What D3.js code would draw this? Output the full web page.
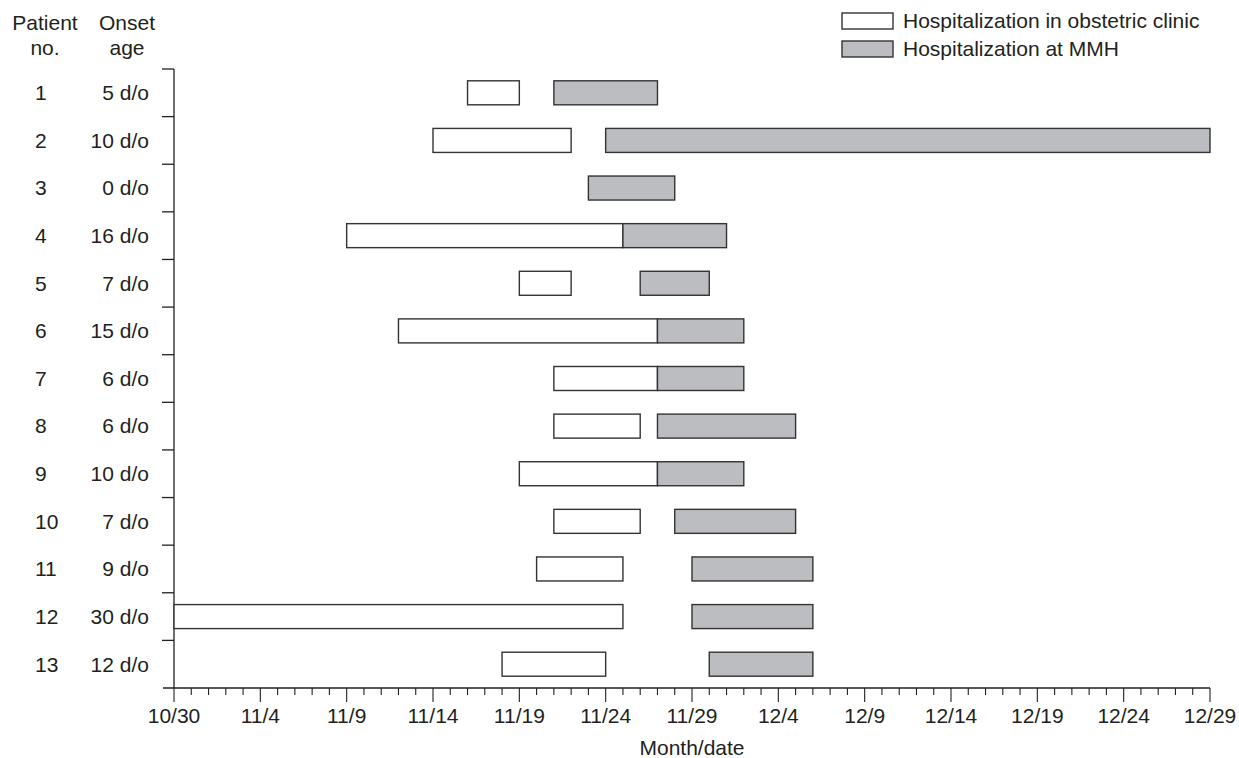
<!DOCTYPE html>
<html>
<head>
<meta charset="utf-8">
<script src="https://cdn.jsdelivr.net/npm/d3@7"></script>
<style>
  body { margin: 0; background: #fff; }
  text { font-family: "Liberation Sans", Arial, sans-serif; fill: #231f20; }
</style>
</head>
<body>
<div id="chart"></div>
<script>
// patient rows
const patients = ["1","2","3","4","5","6","7","8","9","10","11","12","13"];
const onsetAges = ["5 d/o","10 d/o","0 d/o","16 d/o","7 d/o","15 d/o","6 d/o","6 d/o","10 d/o","7 d/o","9 d/o","30 d/o","12 d/o"];

// hospitalization in obstetric clinic [start, end] (null = none)
const obstetricStays = [
    ["11/16","11/19"], ["11/14","11/22"], null, ["11/9","11/25"],
    ["11/19","11/22"], ["11/12","11/27"], ["11/21","11/27"], ["11/21","11/26"],
    ["11/19","11/27"], ["11/21","11/26"], ["11/20","11/25"], ["10/30","11/25"],
    ["11/18","11/24"]
];
// hospitalization at MMH [start, end]
const mmhStays = [
    ["11/21","11/27"], ["11/24","12/29"], ["11/23","11/28"], ["11/25","12/1"],
    ["11/26","11/30"], ["11/27","12/2"], ["11/27","12/2"], ["11/27","12/5"],
    ["11/27","12/2"], ["11/28","12/5"], ["11/29","12/6"], ["11/29","12/6"],
    ["11/30","12/6"]
];

const tickLabels = ["10/30","11/4","11/9","11/14","11/19","11/24","11/29","12/4","12/9","12/14","12/19","12/24","12/29"];
const legendLabels = ["Hospitalization in obstetric clinic","Hospitalization at MMH"];
const fills = ["#ffffff","#bcbdc0"];

const year = 2015;
const parse = s => { const [m,d] = s.split("/").map(Number); return new Date(Date.UTC(year, m-1, d)); };

const W = 1239, H = 758;
const margin = {top: 69, right: 29, bottom: 70, left: 174};
const width = W - margin.left - margin.right;
const height = H - margin.top - margin.bottom;
const fs = 21;

const svg = d3.select("#chart").append("svg")
    .attr("width", W).attr("height", H);
const g = svg.append("g")
    .attr("transform", "translate(" + margin.left + "," + margin.top + ")");

const xScale = d3.scaleUtc()
    .domain([parse(tickLabels[0]), parse(tickLabels[tickLabels.length-1])])
    .range([0, width]);
const yScale = d3.scaleBand().domain(patients).range([0, height]);

// x axis: daily minor ticks, labelled major ticks every 5 days
const allDays = d3.utcDay.range(xScale.domain()[0], d3.utcDay.offset(xScale.domain()[1], 1));
const majorSet = new Set(tickLabels.map(s => +parse(s)));
const xAxisG = g.append("g").attr("transform", "translate(0," + height + ")");
xAxisG.append("line")
    .attr("x1", -11).attr("x2", width).attr("stroke", "#231f20").attr("stroke-width", 1.3);
xAxisG.selectAll(".tk").data(allDays).join("line")
    .attr("x1", d => xScale(d)).attr("x2", d => xScale(d))
    .attr("y1", 0).attr("y2", d => majorSet.has(+d) ? 14 : 7)
    .attr("stroke", "#231f20").attr("stroke-width", 1.1);
xAxisG.selectAll(".lbl").data(tickLabels).join("text")
    .attr("x", d => xScale(parse(d))).attr("y", 35)
    .attr("text-anchor", "middle").attr("font-size", fs)
    .text(d => d);
g.append("text")
    .attr("x", xScale(parse("11/29"))).attr("y", height + 67)
    .attr("text-anchor", "middle").attr("font-size", fs)
    .text("Month/date");

// y axis with row boundary ticks
g.append("line").attr("x1", 0).attr("x2", 0).attr("y1", 0).attr("y2", height)
    .attr("stroke", "#231f20").attr("stroke-width", 1.3);
g.selectAll(".ytk").data(patients).join("line")
    .attr("x1", -12).attr("x2", 0)
    .attr("y1", d => yScale(d)).attr("y2", d => yScale(d))
    .attr("stroke", "#231f20").attr("stroke-width", 1.3);

// row labels
g.selectAll(".pno").data(patients).join("text")
    .attr("x", 35 - margin.left).attr("y", d => yScale(d) + yScale.bandwidth()/2)
    .attr("dy", "0.35em").attr("font-size", fs).text(d => d);
g.selectAll(".age").data(onsetAges).join("text")
    .attr("x", 149 - margin.left).attr("y", (d,i) => yScale(patients[i]) + yScale.bandwidth()/2)
    .attr("dy", "0.35em").attr("text-anchor", "end").attr("font-size", fs).text(d => d);

// column headers
const headers = [["Patient","no.",45],["Onset","age",127]];
headers.forEach(h => {
    svg.append("text").attr("x", h[2]).attr("y", 30).attr("text-anchor", "middle")
        .attr("font-size", fs).text(h[0]);
    svg.append("text").attr("x", h[2]).attr("y", 55).attr("text-anchor", "middle")
        .attr("font-size", fs).text(h[1]);
});

// bars
const barH = 24;
[obstetricStays, mmhStays].forEach((stays, k) => {
    g.selectAll(".bar" + k).data(stays.map((s, i) => ({s, p: patients[i]})).filter(d => d.s))
        .join("rect")
        .attr("x", d => xScale(parse(d.s[0])))
        .attr("width", d => xScale(parse(d.s[1])) - xScale(parse(d.s[0])))
        .attr("y", d => yScale(d.p) + (yScale.bandwidth() - barH)/2)
        .attr("height", barH)
        .attr("fill", fills[k])
        .attr("stroke", "#333").attr("stroke-width", 1.4);
});

// legend
const legend = svg.append("g").attr("transform", "translate(842,13)");
legendLabels.forEach((lab, i) => {
    legend.append("rect").attr("x", 0).attr("y", i*28).attr("width", 51).attr("height", 16)
        .attr("fill", fills[i]).attr("stroke", "#333").attr("stroke-width", 1.4);
    legend.append("text").attr("x", 61).attr("y", i*28 + 8).attr("dy", "0.35em")
        .attr("font-size", fs).text(lab);
});
</script>
</body>
</html>
